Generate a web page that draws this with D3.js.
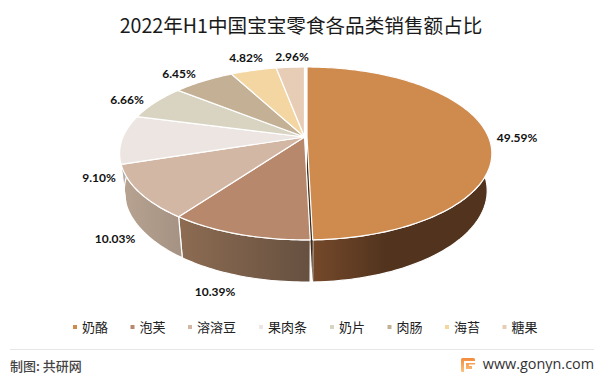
<!DOCTYPE html>
<html>
<head>
<meta charset="utf-8">
<script src="https://cdn.jsdelivr.net/npm/d3@7"></script>
<style>
  html, body { margin: 0; padding: 0; background: #fff; }
  svg { display: block; }
</style>
</head>
<body>
<div id="chart"></div>
<script>
// Dữ liệu
const categories = ["奶酪", "泡芙", "溶溶豆", "果肉条", "奶片", "肉肠", "海苔", "糖果"];
const shares = [49.59, 10.39, 10.03, 9.10, 6.66, 6.45, 4.82, 2.96];
const topColors = ["#CF8B4E", "#B7886C", "#D3B7A5", "#ECE5E1", "#D8D4C1", "#C4B195", "#F4D6A2", "#E8CDB6"];
const sideStops = [
  ["#75492A", "#52341E"],
  ["#8D6C52", "#665040"],
  ["#B8A392", "#A69383"],
  ["#B5ACA8", "#B5ACA8"],
  ["#A5A294", "#A5A294"],
  ["#968772", "#968772"],
  ["#BBA47C", "#BBA47C"],
  ["#B29D8B", "#B29D8B"]
];
// Vị trí nhãn
const labelPos = [[517, 137], [215, 291], [115, 238], [99, 177], [127, 99], [179, 73], [246, 57], [292, 56]];

const width = 601, height = 377;

const svg = d3.select("#chart")
  .append("svg")
  .attr("width", width)
  .attr("height", height);

// Phối cảnh của mặt đĩa
const cam = {x0: 304.5, y0: 137, R: 181.5, S: 83.3, k: 0.19, depth: 37.8, back: 0.025};

function project(angle, radius, level, dx) {
  const u = radius * Math.sin(angle);
  const v = -radius * Math.cos(angle);
  const w = 1 - cam.k * v + level * cam.back;
  return [
    cam.x0 + dx + cam.R * u / w,
    cam.y0 + (cam.S * v + level * cam.depth) / w
  ];
}

const pie = d3.pie().sort(null).value(d => d);
const arcs = pie(shares).map((d, i) => ({...d, i, dx: i === 0 ? 2.5 : 0}));

function rim(d, level) {
  const n = Math.max(2, Math.ceil((d.endAngle - d.startAngle) / 0.02));
  return d3.range(n + 1).map(j => {
    const a = d.startAngle + (d.endAngle - d.startAngle) * j / n;
    return project(a, 1, level, d.dx);
  });
}

const line = d3.line();
const defs = svg.append("defs");

// Màu mặt bên
arcs.forEach(d => {
  const pts = rim(d, 0);
  const xs = d3.extent(pts, p => p[0]);
  const g = defs.append("linearGradient")
    .attr("id", "side" + d.i)
    .attr("gradientUnits", "userSpaceOnUse")
    .attr("x1", d.i === 0 ? 312 : xs[1])
    .attr("x2", d.i === 0 ? 385 : xs[0])
    .attr("y1", 0).attr("y2", 0);
  const stops = d.i === 0 ? sideStops[d.i] : sideStops[d.i].slice().reverse();
  g.append("stop").attr("offset", 0).attr("stop-color", stops[0]);
  g.append("stop").attr("offset", 1).attr("stop-color", stops[1]);
});

// Vẽ mặt bên
svg.append("g").selectAll("path")
  .data(arcs)
  .enter().append("path")
  .attr("d", d => line(rim(d, 0).concat(rim(d, 1).reverse())) + "Z")
  .attr("fill", d => `url(#side${d.i})`)
  .attr("stroke", "#fff")
  .attr("stroke-width", 1.2)
  .attr("stroke-linejoin", "round");

// Mặt cắt tối của miếng lớn
const big = arcs[0];
svg.append("path")
  .attr("d", line([
    project(0, 0, 0, big.dx),
    project(big.endAngle, 1, 0, big.dx),
    project(big.endAngle, 1, 1, big.dx),
    project(0, 0, 1, big.dx)
  ]) + "Z")
  .attr("fill", "#3F2A18");

// Vẽ mặt trên
svg.append("g").selectAll("path")
  .data(arcs)
  .enter().append("path")
  .attr("d", d => line([project(0, 0, 0, d.dx)].concat(rim(d, 0))) + "Z")
  .attr("fill", d => topColors[d.i])
  .attr("stroke", "#fff")
  .attr("stroke-width", 1.2)
  .attr("stroke-linejoin", "round");

// Nhãn phần trăm
svg.append("g").selectAll("text")
  .data(shares)
  .enter().append("text")
  .attr("x", (d, i) => labelPos[i][0])
  .attr("y", (d, i) => labelPos[i][1])
  .attr("text-anchor", "middle")
  .attr("dominant-baseline", "central")
  .attr("font-family", "Lato, 'Open Sans', sans-serif")
  .attr("font-size", "12px")
  .attr("font-weight", "bold")
  .attr("fill", "#111")
  .text(d => d.toFixed(2) + "%");

// Tiêu đề
svg.append("text")
  .attr("x", 301)
  .attr("y", 33)
  .attr("text-anchor", "middle")
  .attr("font-family", "'Noto Sans CJK SC', sans-serif")
  .attr("font-size", "19.6px")
  .attr("fill", "#1a1a1a")
  .text("2022年H1中国宝宝零食各品类销售额占比");

// Chú thích
let lx = 73;
categories.forEach((name, i) => {
  svg.append("rect")
    .attr("x", lx).attr("y", 325)
    .attr("width", 4).attr("height", 4)
    .attr("fill", topColors[i]);
  svg.append("text")
    .attr("x", lx + 9).attr("y", 332)
    .attr("font-family", "'Noto Sans CJK SC', sans-serif")
    .attr("font-size", "13px")
    .attr("fill", "#222")
    .text(name);
  lx += 9 + name.length * 13.5 + 21.5;
});

// Chân trang
svg.append("line")
  .attr("x1", 10).attr("x2", 594)
  .attr("y1", 349.5).attr("y2", 349.5)
  .attr("stroke", "#e6e6e6");

svg.append("text")
  .attr("x", 10).attr("y", 370.5)
  .attr("font-family", "'Noto Sans CJK SC', sans-serif")
  .attr("font-size", "13px")
  .attr("font-weight", "500")
  .attr("fill", "#444")
  .text("制图: 共研网");

const logo = defs.append("linearGradient").attr("id", "logo")
  .attr("x1", 0).attr("x2", 0).attr("y1", 0).attr("y2", 1);
logo.append("stop").attr("offset", 0).attr("stop-color", "#F28A3C");
logo.append("stop").attr("offset", 1).attr("stop-color", "#FBC27A");

svg.append("rect")
  .attr("x", 461).attr("y", 358)
  .attr("width", 14).attr("height", 14)
  .attr("rx", 1.5)
  .attr("fill", "url(#logo)");
svg.append("path")
  .attr("d", "M464 361H475V363H466V369H472V366H469V364.5H475V372H464Z")
  .attr("fill", "#fff");

svg.append("text")
  .attr("x", 594).attr("y", 368.5)
  .attr("text-anchor", "end")
  .attr("font-family", "'Open Sans', sans-serif")
  .attr("font-size", "14.4px")
  .attr("fill", "#333")
  .text("www.gonyn.com");
</script>
</body>
</html>
